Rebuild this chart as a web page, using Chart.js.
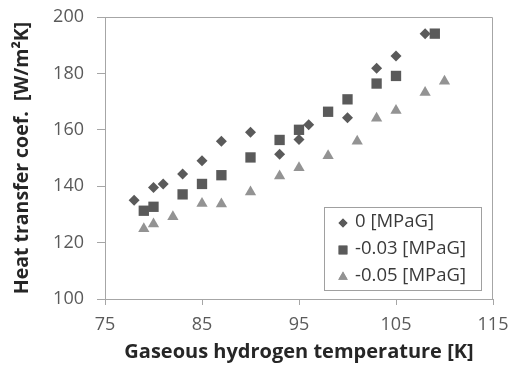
<!DOCTYPE html>
<html>
<head>
<meta charset="utf-8">
<script src="https://cdn.jsdelivr.net/npm/chart.js@4/dist/chart.umd.min.js"></script>
<style>
  html, body { margin: 0; padding: 0; background: #fff; }
  #wrap { width: 513px; height: 365px; }
</style>
</head>
<body>
<div id="wrap"><canvas id="heat_chart" width="513" height="365"></canvas></div>
<script>
// data: temperature [K] vs heat transfer coef. [W/m2K]
const p0_temp = [78, 80, 81, 83, 85, 87, 90, 93, 95, 96, 100, 103, 105, 108];
const p0_coef = [135, 139.5, 140.8, 144.3, 149, 155.9, 159.1, 151.3, 156.6, 161.8, 164.3, 181.8, 186.2, 194.1];

const p003_temp = [79, 80, 83, 85, 87, 90, 93, 95, 98, 100, 103, 105, 109];
const p003_coef = [131.3, 132.7, 137.1, 140.8, 143.9, 150.2, 156.4, 160, 166.4, 170.8, 176.4, 179.1, 194.1];

const p005_temp = [79, 80, 82, 85, 87, 90, 93, 95, 98, 101, 103, 105, 108, 110];
const p005_coef = [124.9, 126.6, 129.2, 133.9, 133.7, 137.9, 143.6, 146.5, 150.8, 155.9, 164.1, 166.8, 173.2, 177.2];

const series_labels = ["0 [MPaG]", "-0.03 [MPaG]", "-0.05 [MPaG]"];
const x_ticks = [75, 85, 95, 105, 115];
const y_ticks = [100, 120, 140, 160, 180, 200];

const dark_gray = "#5a5a5a";
const light_gray = "#939393";
const axis_gray = "#a6a6a6";
const font_family = "'Open Sans', sans-serif";

function toPoints(xs, ys){
    return xs.map((x, i) => ({x: x, y: ys[i]}));
}

// legend marker sizes (smaller than in the plot)
const legend_radius = {rectRot: 4.5, rect: 6.2, triangle: 5.5};

// frame round the plot area plus a boxed legend in the lower right
const frameAndLegend = {
    id: "frameAndLegend",
    afterDraw(chart){
        const ctx = chart.ctx;
        const area = chart.chartArea;
        ctx.save();
        ctx.strokeStyle = axis_gray;
        ctx.lineWidth = 1;
        ctx.beginPath();
        ctx.moveTo(area.left, area.top + 0.5);
        ctx.lineTo(area.right - 0.5, area.top + 0.5);
        ctx.lineTo(area.right - 0.5, area.bottom);
        ctx.stroke();

        // legend box
        const box = {x: 324.5, y: 207.5, w: 157, h: 83};
        ctx.fillStyle = "#fff";
        ctx.fillRect(box.x, box.y, box.w, box.h);
        ctx.strokeStyle = "#a0a0a0";
        ctx.strokeRect(box.x, box.y, box.w, box.h);

        ctx.font = "18.5px " + font_family;
        ctx.textBaseline = "middle";
        ctx.textAlign = "left";
        chart.data.datasets.forEach((ds, i) => {
            const cy = 222 + i * 27;
            ctx.fillStyle = ds.backgroundColor;
            ctx.beginPath();
            Chart.helpers.drawPoint(ctx, {
                pointStyle: ds.pointStyle,
                rotation: 0,
                borderWidth: 0,
                radius: legend_radius[ds.pointStyle]
            }, 343, cy + 1);
            ctx.fill();
            ctx.fillStyle = "#3a3a3a";
            ctx.fillText(ds.label, 355, cy);
        });
        ctx.restore();
    }
};

const ctx = document.getElementById("heat_chart").getContext("2d");

new Chart(ctx, {
    type: "scatter",
    data: {
        datasets: [{
            label: series_labels[0],
            data: toPoints(p0_temp, p0_coef),
            pointStyle: "rectRot",
            pointRadius: 5.5,
            backgroundColor: dark_gray,
            borderColor: dark_gray,
            borderWidth: 0
        },{
            label: series_labels[1],
            data: toPoints(p003_temp, p003_coef),
            pointStyle: "rect",
            pointRadius: 7.3,
            backgroundColor: dark_gray,
            borderColor: dark_gray,
            borderWidth: 0
        },{
            label: series_labels[2],
            data: toPoints(p005_temp, p005_coef),
            pointStyle: "triangle",
            pointRadius: 6.5,
            backgroundColor: light_gray,
            borderColor: light_gray,
            borderWidth: 0
        }]
    },
    options: {
        responsive: false,
        animation: false,
        layout: { padding: { top: 17, right: 20, left: 0, bottom: 0 } },
        plugins: {
            legend: { display: false },
            tooltip: { enabled: false }
        },
        scales: {
            x: {
                type: "linear",
                min: 75,
                max: 115,
                afterBuildTicks: axis => { axis.ticks = x_ticks.map(v => ({value: v})); },
                afterFit: axis => {
                    axis.height = 66;
                    // label overflow would push the plot edge in, keep it fixed
                    axis.paddingLeft = 0;
                    axis.paddingRight = 0;
                },
                grid: { drawOnChartArea: false, drawTicks: true, tickLength: 6, color: axis_gray },
                border: { color: axis_gray },
                ticks: { color: dark_gray, font: { family: font_family, size: 18 }, padding: 9 },
                title: {
                    display: true,
                    text: "Gaseous hydrogen temperature [K]",
                    color: "#262626",
                    font: { family: font_family, size: 20, weight: "bold" },
                    padding: { top: 0, bottom: 1 }
                }
            },
            y: {
                min: 100,
                max: 200,
                afterBuildTicks: axis => { axis.ticks = y_ticks.map(v => ({value: v})); },
                afterFit: axis => {
                    axis.width = 105;
                    axis.paddingTop = 0;
                    axis.paddingBottom = 0;
                },
                grid: { drawOnChartArea: false, drawTicks: true, tickLength: 8, color: axis_gray },
                border: { color: axis_gray },
                ticks: { color: dark_gray, font: { family: font_family, size: 18 }, padding: 13 },
                title: {
                    display: true,
                    text: "Heat transfer coef.  [W/m²K]",
                    color: "#262626",
                    font: { family: font_family, size: 19.5, weight: "bold" },
                    padding: { top: 11, bottom: 0 }
                }
            }
        }
    },
    plugins: [frameAndLegend]
});
</script>
</body>
</html>
